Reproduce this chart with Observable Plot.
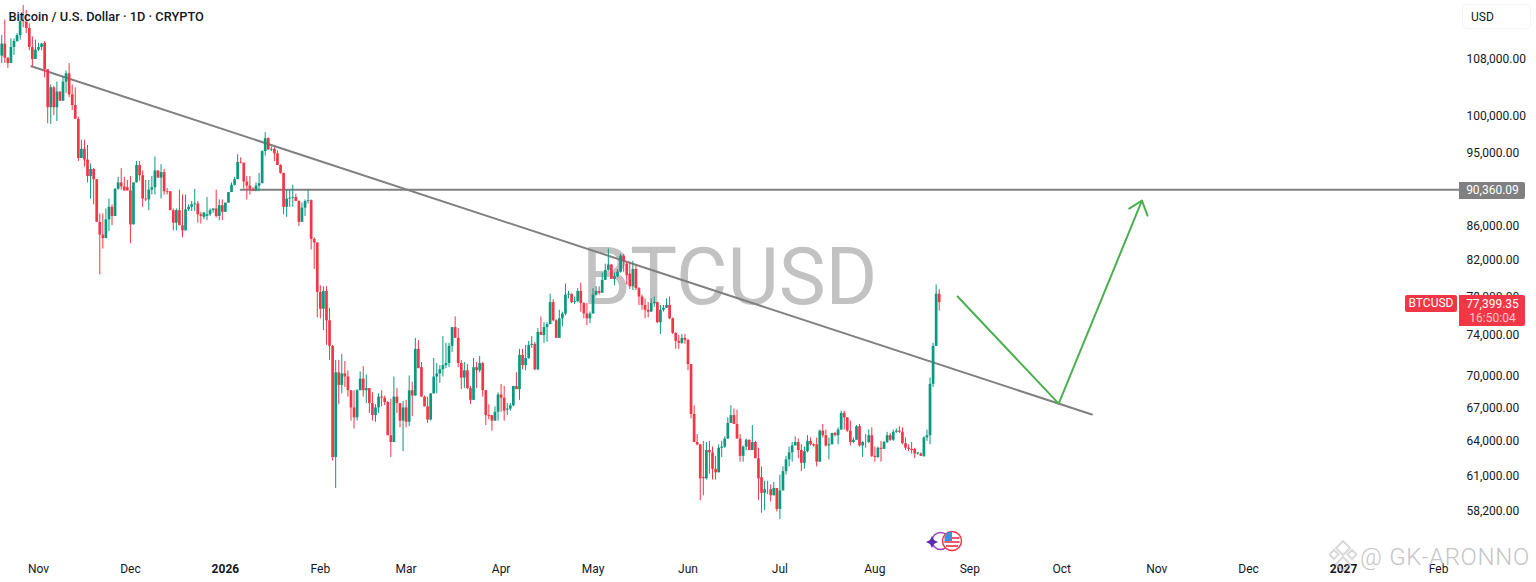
<!DOCTYPE html>
<html>
<head>
<meta charset="utf-8">
<script src="https://cdn.jsdelivr.net/npm/d3@7"></script>
<script src="https://cdn.jsdelivr.net/npm/@observablehq/plot@0.6"></script>
<style>
html,body{margin:0;padding:0;background:#fff;overflow:hidden}
#wrap{position:relative;width:1536px;height:582px;font-family:Roboto,sans-serif}
#wrap svg{display:block}
.tag{position:absolute;font-size:12px;line-height:17px;text-align:center;color:#fff}
</style>
</head>
<body>
<div id="wrap"></div>
<script>
// Daily candles from 20 Oct 2025, prices in thousands of USD
const firstDay = Date.UTC(2025, 9, 20);
const opens = [
108.5,110.3,108.2,107.4,109.8,110.7,111.6,113.8,113.7,112.7,
109.8,108,109.4,109.8,110.4,106.5,101.1,103.9,101.1,103.3,
102,104.7,105.9,102.9,101.4,99.5,94.3,95.5,94.1,92,
92.9,91.6,86.4,84.9,84.5,86.7,88.2,87.1,90.4,91.2,
90.7,90.6,90.2,86.1,91.2,93.4,92.1,89.2,89.1,90.3,
90.6,92.7,91.8,92.5,90.1,90.1,87.8,86.3,87.8,86,
85.4,87.9,88.2,88.5,88.6,87.3,87,87.1,87.3,87.8,
88,87.1,88.4,87.6,88.7,90,90.9,91.6,93.8,93.7,
91.3,90.8,90.4,90.2,90.8,91.1,95.2,96.9,95.4,95.5,
94.9,93.4,92.4,88.2,89.2,89.3,89.4,88.9,86.4,88.1,
88.9,89,84.4,84,78.5,76.7,78.6,75.5,72.9,62.6,
70.3,69.1,70.2,69.9,68.6,67,66.1,68.6,69.7,68.6,
68.8,67.4,66.3,67,68,67.9,67.5,64.5,63.9,68,
67.4,65.8,67,65.7,68.6,68.1,72.6,70.8,68,67.1,
65.9,68.3,69.9,70.2,70.6,71,71.2,72.9,74.8,73.7,
71.2,69.8,70.5,68.8,67.7,70.8,70.5,71.2,68.6,66.3,
66.3,65.8,66.6,68.2,67.9,66.8,66.9,67.2,69,68.7,
72,71,71.7,73,73.1,70.6,74.3,74,74.8,75.1,
77.4,75.5,73.7,75.7,76.2,78.2,78.3,77.4,77.5,78.6,
77.3,76.2,75.7,76.2,78.2,78.6,78.4,79.8,80.9,81.5,
79.9,80.2,80.7,82.5,81.6,80.5,79.1,81,78.9,78,
77.1,76.6,76.4,77.3,77.4,75.3,76.6,76.8,77.1,75.7,
74.2,73.4,73.2,73.7,73.5,71.1,66.4,63.9,63.7,60.9,
60.8,63.2,63,61.6,61.3,63.4,63.5,64.2,65.6,66.3,
65.5,64.2,62.7,63.5,64.1,63.2,63.9,62.5,60.9,59.6,
59.9,59.9,59.4,60,58.3,59.8,61.4,62.4,63,63.6,
63.9,63.2,62.1,63.1,64,63.7,63.7,62.2,64.9,64.5,
63.6,63.7,64.7,64.5,65,66.5,66.1,64.9,63.9,64.1,
65.3,63.6,63.9,63.9,64.5,62.7,62.6,63.4,63.3,63.9,
64.5,64.1,64.8,64.9,64.8,63.8,63.4,63.3,63.3,62.9,
62.9,62.7,64.3,64.5,69.2,72.9,78.3];
const closes = [
110.3,108.2,107.4,109.8,110.7,111.6,113.8,113.7,112.7,109.8,
108,109.4,109.8,110.3,106.5,101.1,103.9,101.1,103.3,102,
104.7,105.9,102.9,101.4,99.5,94.3,95.5,94.1,92,92.9,
91.6,86.4,84.9,84.5,86.7,88.2,87.1,90.4,91.2,90.7,
90.2,90.2,86.1,91.2,93.4,92.1,89.2,89.1,90.3,90.6,
92.7,91.8,92.5,90.1,90,87.8,86.3,87.8,86,85.4,
87.9,88.2,88.5,88.6,87.3,87.1,87.5,87.3,87.8,88,
87.1,88.4,87.6,88.7,90,90.9,91.6,93.8,93.7,91.3,
90.8,90.4,90.2,90.8,91.1,95.2,96.9,95.4,95.5,94.9,
93.4,92.4,88.2,89.2,89.3,89.4,88.9,86.4,88.1,88.9,
89,84.4,84,78.5,76.7,78.6,75.5,72.9,62.6,70.3,
69.1,70.2,69.9,68.6,67,66.1,68.6,69.7,68.6,68.8,
67.4,66.3,67,68,67.9,67.5,64.5,63.9,68,67.4,
65.8,67,65.7,68.6,68.1,72.6,70.7,68,67.1,65.9,
68.3,69.9,70.2,70.6,71,71.2,72.9,74.8,73.7,71.2,
69.8,70.5,68.8,67.7,70.8,70.5,71.2,68.6,66.3,66.2,
65.8,66.6,68.2,67.9,66.7,66.9,67.2,69,68.7,72,
71,71.7,73,73.1,70.6,74.3,74,74.8,75.1,77.4,
75.5,73.7,75.7,76.2,78.2,78.3,77.4,77.5,78.6,77.3,
76.2,75.7,76.2,78.2,78.6,78.4,79.8,80.9,81.5,79.9,
80.2,80.7,82.5,81.9,80.3,79.1,81,78.9,78,77.1,
76.6,76.4,77.3,77.4,75.3,76.6,76.8,77.1,75.7,74.2,
73.4,73.2,73.7,73.5,71.1,66.4,63.9,63.7,60.8,60.8,
63.2,63,61.6,61.3,63.4,63.5,64.2,65.6,66.3,65.5,
64.2,62.7,63.5,64.1,63.2,63.9,62.5,60.8,59.6,59.9,
59.9,59.4,60,58.3,59.8,61.4,62.4,63,63.6,63.9,
63.2,62.1,63.1,64,63.7,63.6,62.2,64.9,64.5,63.6,
63.7,64.7,64.5,65,66.5,66.1,64.9,63.9,64.1,65.3,
63.6,63.9,63.9,64.5,62.7,62.6,63.4,63.3,63.9,64.5,
64.1,64.8,64.9,64.8,63.8,63.4,63.3,63.2,62.9,63,
62.7,64.3,64.5,69.2,72.9,78.3,77.4];
const highs = [
111.6,114,108.2,111.1,111.1,111.9,114.6,116.3,115.5,113.4,
111.4,110.9,110.4,110.4,110.7,106.5,104.3,104.1,104.7,103.3,
105.5,106.3,107.4,104.3,103.9,99.8,96.7,96.7,96,93.6,
93,91.6,87.4,87.4,88,89.2,88.5,90.5,91.9,93,
91.9,91.5,92,91.2,93.9,93.9,92.7,91.5,91.5,92,
94.5,92.7,93.5,92.9,90.5,90.1,88,88,90.3,89.7,
89.7,88.5,88.9,90.4,88.9,87.6,87.6,89.4,88,88,
90.3,89.1,89.1,88.7,90,91.2,91.9,94.8,94.4,93.7,
92,92,90.6,91.2,92.4,95.3,97.7,97,95.8,95.7,
95.3,93.5,92.4,90.3,90.3,90.9,89.8,89,88.7,89.1,
90.3,89.1,84.6,84,79.2,79.1,79.1,76.8,73,71.5,
71.5,72.1,71.4,70.5,68.6,68.6,68.7,70.4,70.9,70.1,
68.8,68.4,67.3,68.3,68.6,68.1,67.6,67.8,69.9,68.8,
67.4,67.6,67.7,70,69.4,73.7,73.5,71.3,68.1,68,
68.3,71.7,71.2,71,73.9,73.2,73.2,74.8,75.9,74.7,
71.5,71.3,71.1,69,71.7,71.3,71.9,71.3,68.6,67.3,
66.3,67.1,68.4,69.2,69,67.4,67.4,69,70.3,72.6,
72.6,73,73.4,73.9,73.3,74.7,75.9,75.3,75.3,78.3,
77.7,75.6,76.6,76.4,79.4,78.6,78.3,78,78.9,79.5,
77.4,77.3,76.4,78.9,79.1,79.1,80.6,81.6,83.3,81.5,
80.6,81,82.7,82.7,81.8,81.8,81.9,81.5,79,78.2,
77.8,77.4,77.8,78,77.4,77.1,77.1,77.8,78,75.8,
74.3,74,74.1,74.1,73.6,71.1,67.2,64.6,63.7,64,
63.9,64,63.5,62.7,63.7,64,64.4,66.1,67.2,66.9,
66.8,64.6,63.6,64.2,64.1,65.4,64,63.4,61.8,60.6,
60.6,60.3,60.5,60,61.1,61.8,62.7,63.5,63.9,64.4,
64.2,63.7,63.5,64.5,64.3,63.8,64.3,65,65.5,65,
64.3,64.7,64.8,65.2,66.7,66.7,66.1,65.8,64.3,65.4,
65.5,64,64.6,65,65.2,63.5,63.5,64,64,64.8,
64.7,65,65.1,65.3,65.2,64.3,63.7,63.9,63.4,63,
63,64.4,65,69.8,73.2,79.3,78.8];
const lows = [
107.4,107.4,106.7,107.4,108.6,110.6,110.9,112.8,111.9,109.3,
106.9,108,109.2,109.3,105.3,98.9,98.8,100,99.2,102,
102,103.1,102.5,100.7,99.5,93.9,94.3,93.2,91.2,89.2,
88.5,86.4,80.4,83.3,84.5,85.3,86,87.1,90.3,90.3,
90.2,90.2,83.9,86.1,91.2,91.4,88.2,88.9,87.8,89.7,
89.7,91.8,89.2,89.7,89.7,87.8,85.4,85.4,86,84.6,
85.4,87.7,87.7,87.7,86.3,86.2,86.7,86.6,87.1,87.5,
86.9,86.6,86.6,87.6,88.7,90,90.8,91.6,93.6,90.4,
89.1,89.7,90.1,90.1,90.1,91.1,94.6,95.4,95.2,93.9,
93.4,92.3,87.3,87,88.2,88.2,88.9,85.9,86.4,87.1,
88.6,83.2,81,75.8,75.7,74.5,73,71.5,62.3,60,
67.3,68.3,68.9,68,65.8,65.1,65.8,68.6,68,67.4,
66.5,65.8,65.7,66.5,67.1,67.2,64.5,62.6,63.9,66.5,
65.2,63.1,65.2,65.3,66.2,68.1,70.7,68,67.1,65.6,
65.8,68.3,68.3,69.3,69.9,70.7,70.8,72.3,73.7,70.8,
68.7,68.8,68.7,67.3,67.7,68.8,70.3,68,65.4,65.9,
64.9,65.8,65.8,66.6,65.8,66.3,66.7,67.1,68.7,67.7,
70.6,70.5,71.6,72.7,70.5,70.5,74,73.2,73.3,75.1,
75.4,73.7,73.7,74.9,76,77.8,77.3,77.2,77.4,76.4,
75.7,75,75.2,76.2,78.1,78.2,78.4,79.8,80.8,79.9,
79.2,80.1,80.6,80.7,79.3,78.8,78.7,78.7,77.1,76.6,
75.7,75.8,76.4,76.9,75.2,74.1,76.4,76.8,75.6,74.1,
72.6,72.6,73.1,73.1,70.5,66,63.9,63.6,59,59.4,
60.7,61.2,60.7,60.7,61.3,62.6,63.4,64.2,65.6,65.5,
64.2,62.2,62.2,63.2,63.2,63.2,62.5,59,58,58.2,
59.5,58.9,59.4,58.1,57.5,59.8,61.1,61.8,62.2,63.6,
62.5,61.4,61.6,63,63.6,63.5,61.8,62.2,64.3,63.5,
62.4,63.7,64.4,63.7,65,65,64.8,63.6,63.8,64.1,
63.5,62.6,63.4,63.8,62.6,62.2,62.5,62.2,63.3,63.8,
64,64,64.7,64.7,63.7,63.2,63.1,62.9,62.5,62.8,
62.7,62.6,64,63.7,68.9,72.9,76.5];

const priceTicks = [108000,100000,95000,86000,82000,78000,74000,70000,67000,64000,61000,58200];
const monthTicks = [["2025-11-01","Nov"],["2025-12-01","Dec"],["2026-02-01","Feb"],["2026-03-01","Mar"],["2026-04-01","Apr"],["2026-05-01","May"],["2026-06-01","Jun"],["2026-07-01","Jul"],["2026-08-01","Aug"],["2026-09-01","Sep"],["2026-10-01","Oct"],["2026-11-01","Nov"],["2026-12-01","Dec"],["2027-02-01","Feb"]];
const yearTicks = [["2026-01-01","2026"],["2027-01-01","2027"]];

const levelLine = [["2026-01-06",90360.09],["2027-02-08",90360.09]];
const trendLine = [["2025-10-29T16:00Z",107000],["2026-10-10T20:00Z",66400]];
const forecastPath = [["2026-08-28",78050],["2026-09-30",67400],["2026-10-27T04:00Z",89000]];
const forecastHead = [["2026-10-23",88050],["2026-10-27T04:00Z",89000],["2026-10-29",87200]];

const DAY = 864e5;
const nov1 = Date.UTC(2025, 10, 1);
const xy = a => a.map(([d, p]) => ({d: new Date(d), p}));
const candles = closes.map((c, i) => ({
  date: new Date(firstDay + i * DAY),
  o: opens[i] * 1000, h: highs[i] * 1000, l: lows[i] * 1000, c: c * 1000
}));
const UP = "#089981", DOWN = "#f23645";
const color = d => d.c >= d.o ? UP : DOWN;
const dateTick = a => a.map(([d]) => new Date(d + "T00:00Z"));
const labelOf = a => { const m = new Map(a.map(([d, t]) => [+new Date(d + "T00:00Z"), t])); return d => m.get(+d); };

const chart = Plot.plot({
  width: 1536, height: 582,
  marginLeft: 0, marginRight: 78, marginTop: 0, marginBottom: 30,
  style: {fontFamily: "Roboto, sans-serif", background: "#fff", overflow: "visible"},
  x: {type: "utc", domain: [new Date(nov1 - 12.404 * DAY), new Date(nov1 + 463.5 * DAY)], axis: null},
  y: {type: "log", domain: [54960, 117095], axis: null},
  marks: [
    Plot.text(["BTCUSD"], {x: () => new Date("2026-06-14T14:00Z"), y: () => 80000, fontSize: 79, fill: "#c2c2c2", text: d => d}),
    Plot.line(xy(levelLine), {x: "d", y: "p", stroke: "#808080", strokeWidth: 2}),
    Plot.line(xy(trendLine), {x: "d", y: "p", stroke: "#808080", strokeWidth: 2}),
    Plot.ruleX(candles, {x: "date", y1: "l", y2: "h", stroke: color, strokeWidth: 1}),
    Plot.ruleX(candles, {x: "date", y1: "o", y2: "c", stroke: color, strokeWidth: 2.7}),
    Plot.line(xy(forecastPath), {x: "d", y: "p", stroke: "#4caf50", strokeWidth: 2}),
    Plot.line(xy(forecastHead), {x: "d", y: "p", stroke: "#4caf50", strokeWidth: 2}),
    Plot.axisY(priceTicks, {anchor: "right", tickSize: 0, tickPadding: 8, fontSize: 12, fill: "#131722", tickFormat: d3.format(",.2f"), label: null}),
    Plot.axisX(dateTick(monthTicks), {anchor: "bottom", tickSize: 0, tickPadding: 12, fontSize: 12, fill: "#131722", tickFormat: labelOf(monthTicks), label: null}),
    Plot.axisX(dateTick(yearTicks), {anchor: "bottom", tickSize: 0, tickPadding: 12, fontSize: 12, fontWeight: 700, fill: "#131722", tickFormat: labelOf(yearTicks), label: null}),
    Plot.text(["Bitcoin / U.S. Dollar · 1D · CRYPTO"], {frameAnchor: "top-left", dx: 8, dy: 11, fontSize: 12.8, fontWeight: 500, fill: "#131722", textAnchor: "start", stroke: "#ffffff", strokeOpacity: 0.35, strokeWidth: 1.5, paintOrder: "stroke"})
  ]
});
const wrap = document.getElementById("wrap");
wrap.appendChild(chart);
wrap.insertAdjacentHTML("beforeend", `
<div style="position:absolute;left:1462px;top:4px;width:69px;height:25px;border:1px solid #f0f3fa;border-radius:5px;box-sizing:border-box;font-size:12px;line-height:24px;padding-left:8px;color:#131722;background:#fff">USD</div>
<div class="tag" style="left:1459px;top:182px;width:66px;height:17px;padding-left:1px;box-sizing:border-box;background:#808080;border-radius:0 2px 2px 0">90,360.09</div>
<div class="tag" style="left:1405px;top:295px;width:52px;height:17px;background:#f23645;border-radius:2px">BTCUSD</div>
<div class="tag" style="left:1459px;top:295px;width:66px;height:31px;background:#f23645;border-radius:0 2px 2px 0;line-height:14px;padding:2px 0 0 1px;box-sizing:border-box">77,399.35<br><span style="color:#fbc9ce">16:50:04</span></div>
<svg style="position:absolute;left:926px;top:528px" width="40" height="28" viewBox="0 0 40 28">
  <circle cx="14.500" cy="13" r="8.500" fill="none" stroke="#9c3fc0" stroke-width="1.500"/>
  <path d="M6 8l2 4 4 2-4 2-2 4-2-4-4-2 4-2z" fill="#5b2bb0"/>
  <circle cx="26" cy="13" r="9.500" fill="#fff" stroke="#f23645" stroke-width="1.500"/>
  <path d="M18.500 9h15v2h-15zM18.500 13h15v2h-15zM20 17h12v2H20z" fill="#f0556a"/>
  <path d="M19.500 6.500q2-3 6.500-3V13h-7.500q0-3.500 1-6.500z" fill="#3f8fe0"/>
</svg>
<svg style="position:absolute;left:1329px;top:540px;opacity:.55" width="28" height="32" viewBox="0 0 28 32">
  <path d="M14 1l7 7-7 7-7-7zM5 10l4.500 4.500L5 19l-4.500-4.500zM23 10l4.500 4.500L23 19l-4.500-4.500zM14 17l7 7-7 7-7-7z" fill="none" stroke="#bbb" stroke-width="2"/>
</svg>
<div style="position:absolute;left:1360px;top:543px;font-size:24px;line-height:28px;font-weight:300;color:#b8b8b8;opacity:.8;white-space:nowrap;letter-spacing:.7px">@ GK-ARONNO</div>
`);
</script>
</body>
</html>
